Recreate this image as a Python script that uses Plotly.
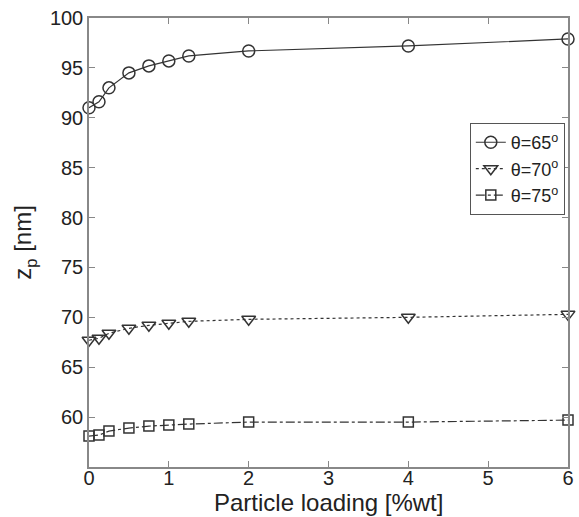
import plotly.graph_objects as go

loading = [0, 0.125, 0.25, 0.5, 0.75, 1, 1.25, 2, 4, 6]
z_65 = [91.0, 91.6, 93.0, 94.5, 95.2, 95.7, 96.2, 96.7, 97.2, 97.9]
z_70 = [67.7, 67.9, 68.4, 68.9, 69.2, 69.4, 69.6, 69.8, 70.0, 70.3]
z_75 = [58.1, 58.2, 58.6, 58.9, 59.1, 59.2, 59.3, 59.5, 59.5, 59.7]
names = ["θ=65<sup>o</sup>", "θ=70<sup>o</sup>", "θ=75<sup>o</sup>"]
x_ticks = [0, 1, 2, 3, 4, 5, 6]
y_ticks = [60, 65, 70, 75, 80, 85, 90, 95, 100]

col = "#333333"
fig = go.Figure()
for y, nm, sym, size, dash in [(z_65, names[0], "circle-open", 12, "solid"),
                               (z_70, names[1], "triangle-down-open", 12, "dot"),
                               (z_75, names[2], "square-open", 10, "dashdot")]:
    fig.add_trace(go.Scatter(
        x=loading, y=y, name=nm, mode="lines+markers",
        line=dict(color=col, width=1.2, dash=dash),
        marker=dict(symbol=sym, size=size, color=col, line=dict(width=1.5, color=col)),
        cliponaxis=False,
    ))

axis_common = dict(
    showgrid=False, zeroline=False, showline=True, linecolor="#888888", linewidth=1.5,
    mirror="ticks", ticks="inside", ticklen=6, tickcolor="#888888", automargin=False,
    tickfont=dict(family="Liberation Sans, Arial", size=20, color="#222222"),
)
fig.update_xaxes(range=[0, 6], tickvals=x_ticks, ticklabelposition="outside",
                 ticklabelstandoff=-8, **axis_common)
fig.update_yaxes(range=[55, 100], tickvals=y_ticks,
                 title=dict(text="z<sub>p</sub> [nm]", standoff=11,
                            font=dict(family="Liberation Sans, Arial", size=24, color="#222222")),
                 **axis_common)
fig.add_annotation(text="Particle loading [%wt]", xref="paper", yref="paper",
                   x=0.5, y=-0.045, xanchor="center", yanchor="top", showarrow=False,
                   font=dict(family="Liberation Sans, Arial", size=24, color="#222222"))
fig.update_layout(
    width=579, height=517,
    margin=dict(l=89, r=11, t=18, b=50),
    plot_bgcolor="white", paper_bgcolor="white",
    legend=dict(x=0.795, y=0.766, xanchor="left", yanchor="top",
                bordercolor="#555555", borderwidth=1, bgcolor="white",
                font=dict(family="Liberation Sans, Arial", size=18, color="#222222"),
                itemwidth=30, tracegroupgap=0),
    showlegend=True,
)
fig.write_html("out.html")
